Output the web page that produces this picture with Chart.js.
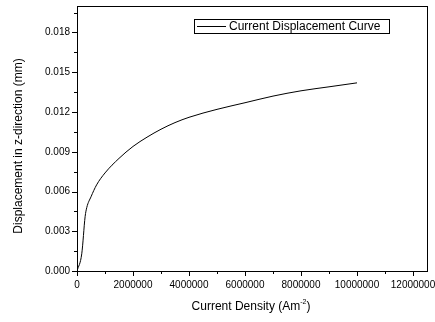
<!DOCTYPE html>
<html>
<head>
<meta charset="utf-8">
<script src="https://cdn.jsdelivr.net/npm/chart.js@4/dist/chart.umd.min.js"></script>
<style>
html,body{margin:0;padding:0;background:#fff;}
#wrap{width:435px;height:322px;position:relative;}
</style>
</head>
<body>
<div id="wrap"><canvas id="c" width="435" height="322"></canvas></div>
<script>
const seriesLabel = "Current Displacement Curve";
const currentDensity = [0, 170000, 290000, 350000, 500000, 700000, 1000000, 1500000, 2000000, 2500000, 3000000, 3500000, 4000000, 5000000, 6000000, 7000000, 8000000, 9000000, 10000000];
const displacement = [0, 0.0013, 0.0041, 0.0048, 0.0056, 0.0065, 0.0074, 0.0085, 0.0094, 0.0101, 0.0107, 0.0112, 0.0116, 0.0122, 0.0127, 0.0132, 0.0136, 0.0139, 0.0142];
const xTicks = [0, 2000000, 4000000, 6000000, 8000000, 10000000, 12000000];
const yTicks = [0, 0.003, 0.006, 0.009, 0.012, 0.015, 0.018];
const xTitle = "Current Density (Am";
const xTitleSup = "-2";
const yTitle = "Displacement in z-direction (mm)";

const FONT = "'Liberation Sans', Arial, sans-serif";

const framePlugin = {
  id: 'frame',
  afterDraw(chart) {
    const ctx = chart.ctx, a = chart.chartArea;
    const xs = chart.scales.x, ys = chart.scales.y;
    ctx.save();
    ctx.strokeStyle = '#000';
    ctx.lineWidth = 1;
    ctx.strokeRect(Math.round(a.left) + 0.5, Math.round(a.top) + 0.5, Math.round(a.right - a.left), Math.round(a.bottom - a.top));
    ctx.beginPath();
    for (let v = 0; v <= xs.max + 1; v += 1000000) {
      const px = Math.round(xs.getPixelForValue(v)) + 0.5;
      const major = (v % 2000000) === 0;
      const len = major ? 5 : 3;
      ctx.moveTo(px, a.bottom);
      ctx.lineTo(px, a.bottom + len);
    }
    for (let i = 0; i <= 13; i++) {
      const v = i * 0.0015;
      if (v > ys.max + 1e-9) break;
      const py = Math.round(ys.getPixelForValue(v)) + 0.5;
      const major = i % 2 === 0;
      const len = major ? 5 : 3;
      ctx.moveTo(a.left, py);
      ctx.lineTo(a.left - len, py);
    }
    ctx.stroke();
    ctx.fillStyle = '#000';
    ctx.font = '10px ' + FONT;
    ctx.textAlign = 'center';
    ctx.textBaseline = 'middle';
    xTicks.forEach(v => {
      ctx.fillText(String(v), xs.getPixelForValue(v), 285);
    });
    ctx.textAlign = 'right';
    yTicks.forEach(v => {
      ctx.fillText(v.toFixed(3), a.left - 7, ys.getPixelForValue(v));
    });
    ctx.font = '12px ' + FONT;
    const w1 = ctx.measureText(xTitle).width;
    ctx.font = '7px ' + FONT;
    const w2 = ctx.measureText(xTitleSup).width;
    ctx.font = '12px ' + FONT;
    const w3 = ctx.measureText(')').width;
    let x0 = 251 - (w1 + w2 + w3) / 2;
    ctx.textAlign = 'left';
    ctx.fillText(xTitle, x0, 307);
    ctx.font = '7px ' + FONT;
    ctx.fillText(xTitleSup, x0 + w1, 302);
    ctx.font = '12px ' + FONT;
    ctx.fillText(')', x0 + w1 + w2, 307);
    ctx.save();
    ctx.translate(19, 146);
    ctx.rotate(-Math.PI / 2);
    ctx.textAlign = 'center';
    ctx.fillText(yTitle, 0, 0);
    ctx.restore();
    ctx.strokeRect(194.5, 19.5, 195, 14);
    ctx.beginPath();
    ctx.moveTo(197, 26.5);
    ctx.lineTo(226, 26.5);
    ctx.stroke();
    ctx.textAlign = 'left';
    ctx.fillText(chart.data.datasets[0].label, 229, 27);
    ctx.restore();
  }
};

new Chart(document.getElementById('c'), {
  type: 'line',
  data: {
    datasets: [{
      label: seriesLabel,
      data: currentDensity.map((x, i) => ({x: x, y: displacement[i]})),
      borderColor: '#000',
      borderWidth: 1,
      pointRadius: 0,
      fill: false,
      cubicInterpolationMode: 'monotone'
    }]
  },
  options: {
    responsive: false,
    animation: false,
    layout: {padding: {top: 6, right: 8, left: 0, bottom: 0}},
    plugins: {legend: {display: false}, tooltip: {enabled: false}},
    scales: {
      x: {
        type: 'linear', min: 0, max: 12500000,
        grid: {display: false, drawTicks: false},
        border: {display: false},
        ticks: {display: false},
        afterFit(s) { s.height = 51; }
      },
      y: {
        type: 'linear', min: 0, max: 0.02,
        grid: {display: false, drawTicks: false},
        border: {display: false},
        ticks: {display: false},
        afterFit(s) { s.width = 77; }
      }
    }
  },
  plugins: [framePlugin]
});
</script>
</body>
</html>
